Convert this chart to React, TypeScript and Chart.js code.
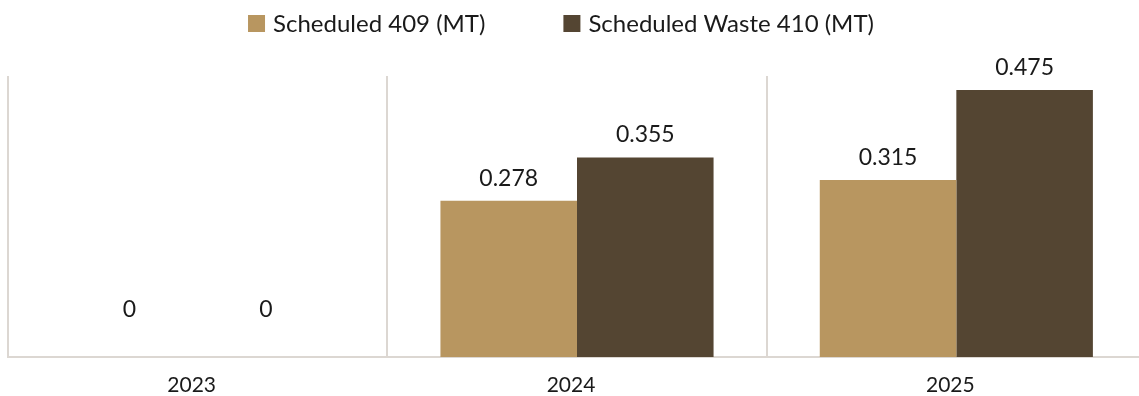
import React, { useEffect, useRef } from "react";
import { Chart, registerables } from "chart.js";

Chart.register(...registerables);

// Years on the category axis
const categories = ["2023", "2024", "2025"];
// Quantities in metric tonnes
const scheduled409 = [0, 0.278, 0.315];
const scheduledWaste410 = [0, 0.355, 0.475];
const seriesNames = ["Scheduled 409 (MT)", "Scheduled Waste 410 (MT)"];
const seriesColors = ["#B89660", "#544532"];

const FONT = "Lato, 'Noto Sans', sans-serif";
const TEXT = "#1a1a1a";
const GRID = "#DCD7D2";

// Value labels drawn above each bar; zero values sit a little above the axis.
const valueLabels = {
  id: "valueLabels",
  afterDatasetsDraw(chart: any) {
    const { ctx } = chart;
    const base = chart.scales.y.getPixelForValue(0);
    ctx.save();
    ctx.font = `23px ${FONT}`;
    ctx.fillStyle = TEXT;
    ctx.textAlign = "center";
    ctx.textBaseline = "alphabetic";
    chart.data.datasets.forEach((ds: any, i: number) => {
      const meta = chart.getDatasetMeta(i);
      meta.data.forEach((bar: any, j: number) => {
        const v = ds.data[j];
        const y = Math.min(bar.y - 15, base - 40);
        ctx.fillText(String(v), bar.x, y);
      });
    });
    ctx.restore();
  },
};

// Single-row legend across the top with square swatches.
const topLegend = {
  id: "topLegend",
  afterDraw(chart: any) {
    const { ctx } = chart;
    const box = 17;
    const gapText = 8;
    const gapItem = 78;
    const centerX = 561;
    const baseline = 32;
    ctx.save();
    ctx.font = `24px ${FONT}`;
    ctx.textBaseline = "alphabetic";
    ctx.textAlign = "left";
    const items = chart.data.datasets.map((ds: any) => ({
      label: ds.label as string,
      color: ds.backgroundColor as string,
      w: ctx.measureText(ds.label).width,
    }));
    const total =
      items.reduce((a: number, it: any) => a + box + gapText + it.w, 0) +
      gapItem * (items.length - 1);
    let x = centerX - total / 2;
    items.forEach((it: any) => {
      ctx.fillStyle = it.color;
      ctx.fillRect(x, baseline - box, box, box);
      ctx.fillStyle = TEXT;
      ctx.fillText(it.label, x + box + gapText, baseline);
      x += box + gapText + it.w + gapItem;
    });
    ctx.restore();
  },
};

export default function App() {
  const canvasRef = useRef<HTMLCanvasElement | null>(null);

  useEffect(() => {
    if (!canvasRef.current) return;
    const chart = new Chart(canvasRef.current, {
      type: "bar",
      data: {
        labels: categories,
        datasets: [
          {
            label: seriesNames[0],
            data: scheduled409,
            backgroundColor: seriesColors[0],
            barPercentage: 1,
            categoryPercentage: 0.72,
          },
          {
            label: seriesNames[1],
            data: scheduledWaste410,
            backgroundColor: seriesColors[1],
            barPercentage: 1,
            categoryPercentage: 0.72,
          },
        ],
      },
      options: {
        animation: false,
        responsive: true,
        maintainAspectRatio: false,
        layout: { padding: { top: 76, left: 8, right: 0, bottom: 0 } },
        plugins: {
          legend: { display: false },
          tooltip: { enabled: false },
        },
        scales: {
          x: {
            grid: {
              display: true,
              offset: true,
              color: GRID,
              lineWidth: 2,
              drawTicks: false,
            },
            border: { display: true, color: GRID, width: 2 },
            ticks: {
              color: TEXT,
              font: { family: FONT, size: 21 },
              padding: 16,
              labelOffset: -6,
            },
            afterFit(scale: any) {
              scale.height = 39;
            },
          },
          y: {
            display: false,
            min: 0,
            max: 0.5,
          },
        },
      },
      plugins: [valueLabels, topLegend],
    });
    return () => chart.destroy();
  }, []);

  return (
    <div
      style={{
        position: "fixed",
        left: 0,
        top: 0,
        width: "100vw",
        height: "100vh",
        overflow: "hidden",
        background: "#ffffff",
      }}
    >
      <div style={{ position: "absolute", left: 0, top: 0, width: 1146, height: 396 }}>
        <canvas ref={canvasRef} />
      </div>
    </div>
  );
}
